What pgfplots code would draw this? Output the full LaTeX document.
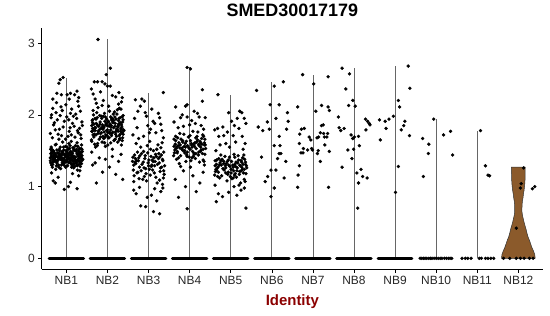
\documentclass[border=0pt]{standalone}
\usepackage{pgfplots}
\usepackage{pgfplotstable}
\pgfplotsset{compat=1.18}
\usepackage{fontspec}
\setmainfont{Liberation Sans}
\definecolor{idred}{RGB}{139,0,0}
\definecolor{nbbrown}{RGB}{139,90,43}

\pgfplotstableread{
d v
-0.31 1.42
0.17 1.35
-0.06 1.51
0.34 1.28
-0.22 1.47
0.05 1.39
0.28 1.56
-0.38 1.33
0.11 1.44
-0.14 1.25
0.39 1.49
-0.27 1.58
0.02 1.37
0.23 1.41
-0.09 1.62
-0.35 1.46
0.31 1.36
0.08 1.53
-0.19 1.30
0.36 1.43
-0.02 1.27
0.14 1.48
-0.29 1.39
0.26 1.61
-0.11 1.45
0.33 1.22
-0.37 1.55
0.19 1.32
-0.05 1.40
0.09 1.57
-0.24 1.34
0.38 1.52
-0.16 1.43
0.03 1.29
0.29 1.46
-0.33 1.38
0.12 1.63
-0.08 1.35
0.21 1.50
-0.26 1.24
0.07 1.45
-0.32 1.50
0.25 1.33
-0.13 1.41
0.37 1.58
-0.21 1.36
0.01 1.47
0.18 1.26
-0.36 1.43
0.30 1.39
-0.07 1.55
0.13 1.31
-0.28 1.44
0.35 1.48
-0.17 1.52
0.22 1.37
-0.03 1.34
-0.39 1.40
0.27 1.45
0.06 1.60
-0.23 1.42
0.16 1.54
-0.12 1.30
0.32 1.44
-0.34 1.27
0.10 1.38
-0.01 1.43
0.24 1.49
-0.30 1.35
0.04 1.52
0.37 1.40
-0.18 1.46
0.15 1.36
-0.25 1.59
0.20 1.28
-0.10 1.49
0.34 1.33
-0.36 1.47
0.00 1.41
0.27 1.23
-0.15 1.38
0.28 1.44
-0.33 1.31
0.09 1.47
-0.04 1.36
0.36 1.53
-0.25 1.42
0.19 1.39
-0.11 1.48
0.02 1.55
0.31 1.35
-0.38 1.46
0.14 1.29
-0.20 1.41
0.26 1.46
-0.07 1.32
0.38 1.43
-0.29 1.37
0.05 1.44
0.22 1.57
-0.35 1.52
0.12 1.40
-0.18 1.27
0.33 1.47
-0.01 1.50
-0.23 1.33
0.17 1.42
0.40 1.38
-0.31 1.49
0.08 1.34
-0.13 1.45
0.25 1.30
-0.37 1.41
0.03 1.46
0.29 1.42
-0.09 1.39
0.18 1.51
-0.27 1.45
0.11 1.33
-0.05 1.44
0.22 1.36
-0.30 1.44
0.06 1.33
-0.17 1.50
0.33 1.41
-0.06 1.30
0.15 1.46
-0.38 1.52
0.27 1.37
-0.12 1.43
0.01 1.35
0.36 1.47
-0.24 1.29
0.10 1.49
-0.34 1.34
0.19 1.42
-0.02 1.56
0.31 1.31
-0.20 1.38
0.04 1.45
0.25 1.52
-0.28 1.41
0.13 1.27
-0.09 1.48
0.38 1.36
-0.15 1.55
0.08 1.40
-0.36 1.30
0.29 1.44
-0.04 1.37
-0.19 1.46
0.35 1.39
-0.01 1.28
0.24 1.34
-0.35 1.49
0.12 1.43
-0.26 1.37
0.30 1.50
0.03 1.42
-0.10 1.33
0.18 1.54
-0.32 1.40
0.37 1.32
-0.07 1.46
0.09 1.36
-0.23 1.51
0.27 1.29
-0.14 1.39
0.02 1.48
0.34 1.44
-0.39 1.36
0.16 1.31
-0.03 1.45
0.21 1.38
-0.29 1.47
0.07 1.34
-0.17 1.42
0.32 1.53
-0.11 1.37
0.14 1.41
-0.34 1.68
0.12 1.72
-0.18 1.66
0.29 1.75
0.04 1.70
-0.27 1.79
0.36 1.67
-0.08 1.83
0.21 1.69
-0.39 1.74
0.15 1.88
-0.12 1.71
0.32 1.81
-0.22 1.93
0.07 1.77
-0.02 1.66
0.25 1.95
-0.31 1.86
0.38 1.90
-0.15 1.99
0.10 2.02
-0.36 2.00
0.19 1.84
-0.05 1.91
0.34 2.05
-0.25 2.03
0.01 1.97
0.27 1.78
-0.20 1.73
0.13 2.08
-0.37 1.96
0.23 2.01
-0.10 2.06
0.39 1.85
-0.29 1.89
0.06 1.93
0.30 2.12
-0.17 1.80
0.17 1.98
-0.33 2.09
-0.01 2.14
0.35 1.72
-0.24 2.17
0.09 1.82
0.28 2.19
-0.13 2.11
-0.15 2.49
-0.08 2.52
-0.18 2.44
-0.23 2.30
-0.12 2.28
0.02 2.28
0.10 2.30
0.20 2.28
0.26 2.33
-0.33 2.22
0.07 2.22
0.30 2.24
-0.32 1.08
-0.27 1.05
0.10 1.06
-0.05 0.96
0.05 1.00
0.26 0.97
-0.20 1.13
0.30 1.15
0.15 1.18
-0.36 1.19
}\nbone

\pgfplotstableread{
d v
-0.31 1.82
0.17 1.65
-0.06 1.91
0.34 1.58
-0.22 1.77
0.05 2.05
0.28 1.86
-0.38 1.63
0.11 1.74
-0.14 1.95
0.39 1.79
-0.27 1.88
0.02 1.68
0.23 2.01
-0.09 1.84
-0.35 1.72
0.31 1.96
0.08 1.61
-0.19 1.99
0.36 1.75
-0.02 1.78
0.14 1.89
-0.29 1.55
0.26 1.83
-0.11 1.70
0.33 2.08
-0.37 1.92
0.19 1.66
-0.05 1.97
0.09 1.85
-0.24 1.60
0.38 1.93
-0.16 1.81
0.03 2.12
0.29 1.71
-0.33 1.87
0.12 1.52
-0.08 1.76
0.21 1.94
-0.26 2.03
0.07 1.87
-0.32 1.73
0.25 1.79
-0.13 1.62
0.37 1.90
-0.21 1.84
0.01 1.58
0.18 1.97
-0.36 1.81
0.30 1.67
-0.07 2.02
0.13 1.76
-0.28 1.94
0.35 1.83
-0.17 1.69
0.22 1.80
-0.03 1.88
-0.39 1.65
0.27 1.92
0.06 1.74
-0.23 2.10
0.16 1.64
-0.12 1.86
0.32 1.77
-0.34 2.00
0.10 1.93
-0.01 1.71
0.24 2.07
-0.30 1.78
0.04 1.84
0.37 1.68
-0.18 1.90
0.15 1.82
-0.25 1.57
0.20 1.73
-0.10 1.98
0.34 1.86
-0.36 1.89
0.00 1.79
0.27 2.15
-0.15 1.75
0.28 1.95
-0.33 1.69
0.09 1.83
-0.04 1.72
0.36 1.64
-0.25 1.96
0.19 1.88
-0.11 1.80
0.02 1.91
0.31 1.73
-0.38 1.85
0.14 2.01
-0.20 1.66
0.26 1.77
-0.07 1.61
0.38 1.99
-0.29 1.82
0.05 1.76
0.22 1.70
-0.35 2.06
0.12 1.94
-0.18 1.87
0.33 1.80
-0.01 1.85
-0.23 1.74
0.17 2.04
0.40 1.78
-0.31 1.59
0.08 1.97
-0.13 2.13
0.25 1.62
-0.37 1.77
0.03 1.90
0.29 2.09
-0.09 1.67
0.18 1.84
-0.27 2.16
0.11 1.95
-0.05 1.56
0.22 1.78
-0.30 1.95
0.06 1.86
-0.17 1.74
0.33 1.81
-0.06 1.69
0.15 1.92
-0.38 1.77
0.27 1.87
-0.12 1.83
0.01 1.75
0.36 1.97
-0.24 1.85
0.10 1.71
-0.34 1.80
0.19 1.76
-0.02 1.94
0.31 1.89
-0.20 1.79
0.04 1.68
0.25 1.84
-0.28 1.72
0.13 1.90
-0.09 1.82
0.38 1.73
-0.15 1.98
0.08 1.79
-0.36 1.93
0.29 1.65
-0.04 1.86
-0.23 3.05
0.07 2.65
-0.03 2.56
-0.32 2.46
-0.24 2.46
-0.13 2.46
-0.06 2.43
0.00 2.40
0.07 2.40
-0.39 2.36
-0.35 2.29
-0.17 2.32
0.20 2.25
0.36 2.24
0.34 2.18
-0.30 2.22
0.12 2.27
-0.10 2.20
0.28 2.31
-0.27 1.05
-0.36 1.30
-0.30 1.33
-0.12 1.20
0.05 1.27
0.20 1.17
0.37 1.10
0.27 1.35
-0.20 1.40
0.12 1.42
-0.05 1.38
0.33 1.45
-0.38 1.48
}\nbtwo

\pgfplotstableread{
d v
-0.31 1.32
0.17 1.45
-0.06 1.18
0.34 1.38
-0.22 1.27
0.05 1.52
0.28 1.21
-0.38 1.41
0.11 1.35
-0.14 1.10
0.39 1.29
-0.27 1.48
0.02 1.24
0.23 1.58
-0.09 1.39
-0.35 1.15
0.31 1.44
0.08 1.30
-0.19 1.55
0.36 1.12
-0.02 1.47
0.14 1.19
-0.29 1.36
0.26 1.33
-0.11 1.26
0.33 1.61
-0.37 1.23
0.19 1.42
-0.05 1.08
0.09 1.37
-0.24 1.40
0.38 1.17
-0.16 1.31
0.03 1.63
0.29 1.26
-0.33 1.34
0.12 1.50
-0.08 1.43
0.21 1.05
-0.26 1.20
0.07 1.28
-0.32 1.39
0.25 1.46
-0.13 1.34
0.37 1.22
-0.21 1.43
0.01 1.37
0.18 1.13
-0.36 1.30
0.30 1.54
-0.07 1.25
0.13 1.40
-0.28 1.19
0.35 1.36
-0.17 1.46
0.22 1.31
-0.03 1.57
-0.39 1.35
0.27 1.09
0.06 1.42
-0.23 1.11
0.16 1.35
-0.12 1.49
0.32 1.27
-0.34 1.44
0.10 1.23
-0.01 1.33
0.24 1.39
-0.30 1.60
0.04 1.16
0.37 1.48
-0.18 1.22
0.15 1.29
-0.25 1.36
0.20 1.52
-0.10 1.14
0.34 1.03
-0.36 1.07
0.00 1.29
0.27 1.41
0.36 2.31
-0.32 2.21
-0.16 2.22
-0.10 2.19
-0.26 2.05
-0.34 1.95
0.24 2.02
0.30 1.87
-0.20 2.12
0.08 2.08
-0.05 1.98
0.15 1.88
-0.28 1.82
0.32 1.78
-0.38 1.72
0.18 1.75
-0.12 1.70
0.05 1.80
0.36 1.68
-0.24 1.67
0.11 1.91
-0.02 1.85
0.27 1.96
0.02 1.75
-0.08 2.03
-0.19 0.73
-0.07 0.72
0.12 0.65
0.27 0.62
0.20 0.80
-0.30 0.90
-0.36 0.95
0.07 0.88
0.30 0.93
-0.03 0.85
0.15 0.97
-0.22 0.99
0.35 0.98
}\nbthree

\pgfplotstableread{
d v
-0.31 1.55
0.17 1.62
-0.06 1.48
0.34 1.70
-0.22 1.43
0.05 1.58
0.28 1.51
-0.38 1.66
0.11 1.45
-0.14 1.73
0.39 1.53
-0.27 1.40
0.02 1.64
0.23 1.57
-0.09 1.35
-0.35 1.59
0.31 1.46
0.08 1.77
-0.19 1.52
0.36 1.61
-0.02 1.54
0.14 1.39
-0.29 1.68
0.26 1.49
-0.11 1.60
0.33 1.37
-0.37 1.47
0.19 1.65
-0.05 1.57
0.09 1.42
-0.24 1.74
0.38 1.58
-0.16 1.50
0.03 1.36
0.29 1.67
-0.33 1.53
0.12 1.56
-0.08 1.63
0.21 1.44
-0.26 1.61
0.07 1.49
-0.32 1.38
0.25 1.63
-0.13 1.56
0.37 1.45
-0.21 1.66
0.01 1.52
0.18 1.70
-0.36 1.51
0.30 1.59
-0.07 1.44
0.13 1.61
-0.28 1.57
0.35 1.35
-0.17 1.62
0.22 1.48
-0.03 1.69
-0.39 1.43
0.27 1.55
0.06 1.40
-0.23 1.58
0.16 1.53
-0.12 1.47
0.32 1.72
-0.34 1.64
0.10 1.59
-0.01 1.41
0.24 1.34
-0.30 1.49
0.04 1.60
0.37 1.66
-0.18 1.54
0.15 1.46
-0.25 1.32
0.20 1.76
-0.10 1.55
0.22 1.59
-0.30 1.47
0.06 1.55
-0.17 1.64
0.33 1.52
-0.06 1.42
0.15 1.68
-0.38 1.56
0.27 1.61
-0.12 1.50
0.01 1.71
0.36 1.58
-0.24 1.54
0.10 1.47
-0.34 1.70
-0.06 2.66
0.02 2.64
0.31 2.35
0.31 2.19
-0.34 2.11
-0.10 2.12
-0.06 2.14
0.11 2.05
-0.22 1.96
-0.06 1.97
0.23 1.97
0.38 1.96
-0.38 1.90
0.14 1.88
-0.15 1.84
0.05 1.92
0.28 1.85
-0.28 1.82
0.34 1.80
0.00 1.86
-0.18 2.00
0.19 2.02
-0.27 0.85
-0.06 0.69
0.16 0.93
-0.35 1.10
0.25 1.05
0.08 1.15
-0.15 1.22
0.33 1.20
-0.22 1.28
0.02 1.27
0.36 1.30
-0.10 1.00
}\nbfour

\pgfplotstableread{
d v
-0.31 1.27
0.17 1.33
-0.06 1.20
0.34 1.38
-0.22 1.15
0.05 1.30
0.28 1.24
-0.38 1.36
0.11 1.18
-0.14 1.42
0.39 1.26
-0.27 1.12
0.02 1.35
0.23 1.29
-0.09 1.08
-0.35 1.31
0.31 1.19
0.08 1.45
-0.19 1.25
0.36 1.34
-0.02 1.28
0.14 1.13
-0.29 1.39
0.26 1.22
-0.11 1.32
0.33 1.10
-0.37 1.21
0.19 1.37
-0.05 1.30
0.09 1.16
-0.24 1.44
0.38 1.29
-0.16 1.23
0.03 1.11
0.29 1.40
-0.33 1.26
0.12 1.28
-0.08 1.35
0.21 1.17
-0.26 1.33
0.07 1.22
-0.32 1.14
0.25 1.36
-0.13 1.29
0.37 1.18
-0.21 1.38
0.01 1.24
0.18 1.43
-0.36 1.24
0.30 1.31
-0.07 1.17
0.13 1.34
-0.28 1.30
0.35 1.07
-0.17 1.35
0.22 1.21
-0.03 1.41
-0.39 1.16
0.27 1.27
0.06 1.12
-0.23 1.30
0.16 1.26
-0.12 1.19
0.32 1.44
-0.34 1.37
0.10 1.31
-0.01 1.14
0.24 1.05
0.22 1.30
-0.30 1.20
0.06 1.27
-0.17 1.32
0.33 1.24
-0.06 1.37
0.15 1.22
-0.38 1.29
0.27 1.34
-0.12 1.26
0.01 1.19
0.36 1.31
-0.24 1.36
0.10 1.41
-0.34 1.23
-0.31 2.28
-0.05 2.03
0.22 2.05
0.27 2.03
0.33 1.95
-0.39 1.79
-0.32 1.81
-0.19 1.83
0.02 1.91
0.16 1.95
0.20 1.81
-0.29 1.70
-0.17 1.71
0.06 1.71
0.28 1.70
0.35 1.60
-0.26 1.58
-0.12 1.60
0.12 1.62
-0.03 1.55
0.30 1.52
-0.36 1.50
0.09 1.85
-0.08 1.76
0.37 1.88
-0.35 0.79
0.37 0.70
0.15 0.88
-0.30 0.90
-0.20 0.86
0.25 0.95
0.33 0.98
-0.05 0.92
0.08 1.00
-0.38 1.02
0.20 1.02
}\nbfive

\pgfplotstableread{
d v
-0.37 2.34
0.06 2.40
0.28 2.46
-0.04 2.14
0.18 2.14
-0.33 1.83
-0.11 1.90
0.38 2.03
0.40 1.91
-0.22 1.78
-0.06 1.80
0.10 1.95
0.18 1.70
0.20 1.57
0.06 1.57
0.18 1.46
-0.25 1.41
0.14 1.39
0.22 1.46
-0.02 1.23
0.10 1.23
-0.10 1.14
-0.16 1.07
0.06 0.98
-0.02 0.86
0.30 1.12
0.34 1.35
0.36 1.80
}\nbsix

\pgfplotstableread{
d v
-0.25 2.56
0.02 2.43
0.37 2.53
-0.37 2.11
0.07 2.05
0.21 2.13
0.37 2.11
0.40 2.06
-0.28 1.80
-0.21 1.81
0.21 1.85
0.25 1.86
0.18 1.75
0.26 1.74
0.36 1.74
0.28 1.69
0.34 1.69
-0.09 1.69
-0.05 1.65
0.10 1.68
0.14 1.69
-0.32 1.73
-0.33 1.60
-0.29 1.47
-0.24 1.47
-0.23 1.53
-0.13 1.51
-0.03 1.53
-0.01 1.51
0.11 1.46
0.13 1.50
0.18 1.35
0.29 1.58
0.40 1.49
-0.33 1.29
-0.36 1.16
-0.37 0.99
0.38 0.99
}\nbseven

\pgfplotstableread{
d v
-0.29 2.65
-0.11 2.57
-0.20 2.36
-0.03 2.20
0.03 2.12
-0.13 2.13
-0.38 1.97
-0.36 1.82
-0.32 1.78
-0.24 1.81
-0.07 1.72
0.01 1.69
0.11 1.70
-0.03 1.67
0.28 1.94
0.33 1.91
0.37 1.88
0.39 1.86
0.29 1.79
-0.15 1.51
-0.01 1.52
0.13 1.57
-0.05 1.39
-0.29 1.27
0.07 1.19
0.17 1.24
0.21 1.14
0.32 1.12
0.11 1.05
0.09 0.70
}\nbeight

\pgfplotstableread{
d v
0.32 2.68
0.36 2.37
0.08 2.20
0.11 2.11
-0.04 1.98
-0.38 1.93
-0.24 1.91
-0.15 1.94
-0.36 1.65
-0.22 1.81
0.24 1.91
0.21 1.85
0.15 1.79
0.35 1.71
0.08 1.28
0.01 0.92
}\nbnine

\begin{document}
\begin{tikzpicture}
\path[use as bounding box] (0,0) rectangle (550bp,316bp);
\begin{axis}[
  at={(41.7bp,46.7bp)}, anchor=south west,
  scale only axis, width=501.3bp, height=241.3bp,
  xmin=0.4, xmax=12.6, ymin=-0.153, ymax=3.21,
  axis lines*=left,
  axis line style={-, line width=0.7bp, black},
  xtick={1,2,3,4,5,6,7,8,9,10,11,12},
  xticklabels={NB1,NB2,NB3,NB4,NB5,NB6,NB7,NB8,NB9,NB10,NB11,NB12},
  ytick={0,1,2,3},
  tick align=outside, major tick length=3.5bp,
  tick style={black, line width=0.6bp},
  ticklabel style={font=\fontsize{12}{14}\selectfont, text=black!85},
  /pgf/number format/assume math mode=true,
  title={SMED30017179},
  title style={font=\bfseries\fontsize{18}{20}\selectfont, at={(axis description cs:0.5,1)}, anchor=base, yshift=6bp},
  xlabel={Identity},
  xlabel style={font=\bfseries\fontsize{15}{17}\selectfont, text=idred, at={(axis description cs:0.5,0)}, anchor=base, yshift=-35.7bp},
]
% violins (collapsed to lines)
\addplot[black!60, line width=0.7bp] coordinates {(1,0)(1,2.52)};
\addplot[black!60, line width=0.7bp] coordinates {(2,0)(2,3.05)};
\addplot[black!60, line width=0.7bp] coordinates {(3,0)(3,2.31)};
\addplot[black!60, line width=0.7bp] coordinates {(4,0)(4,2.66)};
\addplot[black!60, line width=0.7bp] coordinates {(5,0)(5,2.28)};
\addplot[black!60, line width=0.7bp] coordinates {(6,0)(6,2.46)};
\addplot[black!60, line width=0.7bp] coordinates {(7,0)(7,2.56)};
\addplot[black!60, line width=0.7bp] coordinates {(8,0)(8,2.65)};
\addplot[black!60, line width=0.7bp] coordinates {(9,0)(9,2.68)};
\addplot[black!60, line width=0.7bp] coordinates {(10,0)(10,1.94)};
\addplot[black!60, line width=0.7bp] coordinates {(11,0)(11,1.78)};
% NB12 violin
\addplot[fill=nbbrown, draw=black!80, line width=0.5bp] coordinates {
(12.41,0)(12.40,0.05)(12.37,0.10)(12.33,0.15)(12.30,0.20)(12.27,0.25)(12.235,0.30)(12.21,0.35)(12.19,0.40)(12.165,0.45)(12.14,0.50)(12.12,0.55)(12.10,0.60)(12.088,0.65)(12.088,0.70)(12.092,0.75)(12.10,0.80)(12.115,0.85)(12.125,0.90)(12.14,0.95)(12.15,1.00)(12.158,1.05)(12.163,1.10)(12.166,1.15)(12.167,1.20)(12.167,1.27)
(11.833,1.27)(11.833,1.20)(11.834,1.15)(11.837,1.10)(11.842,1.05)(11.85,1.00)(11.86,0.95)(11.875,0.90)(11.885,0.85)(11.90,0.80)(11.908,0.75)(11.912,0.70)(11.912,0.65)(11.90,0.60)(11.88,0.55)(11.86,0.50)(11.835,0.45)(11.81,0.40)(11.79,0.35)(11.765,0.30)(11.73,0.25)(11.70,0.20)(11.67,0.15)(11.63,0.10)(11.60,0.05)(11.59,0)} -- cycle;
% zero rows (dense)
\addplot[black, line width=3bp, line cap=round] coordinates {(0.58,0)(1.42,0)};
\addplot[black, line width=3bp, line cap=round] coordinates {(1.58,0)(2.42,0)};
\addplot[black, line width=3bp, line cap=round] coordinates {(2.58,0)(3.42,0)};
\addplot[black, line width=3bp, line cap=round] coordinates {(3.58,0)(4.42,0)};
\addplot[black, line width=3bp, line cap=round] coordinates {(4.58,0)(5.42,0)};
\addplot[black, line width=3bp, line cap=round] coordinates {(5.58,0)(6.42,0)};
\addplot[black, line width=3bp, line cap=round] coordinates {(6.58,0)(7.42,0)};
\addplot[black, line width=3bp, line cap=round] coordinates {(7.58,0)(8.42,0)};
\addplot[black, line width=3bp, line cap=round] coordinates {(8.59,0)(9.41,0)};
% zero rows (sparse)
\addplot[only marks, mark=*, mark size=1.5bp, black] coordinates {
(9.61,0)(9.65,0)(9.69,0)(9.73,0)(9.77,0)(9.82,0)(9.86,0)(9.90,0)(9.95,0)(10.00,0)(10.05,0)(10.10,0)(10.14,0)(10.20,0)(10.25,0)(10.30,0)(10.34,0)(10.38,0)
(10.63,0)(10.71,0)(10.77,0)(10.85,0)(11.05,0)(11.10,0)(11.20,0)(11.26,0)(11.33,0)(11.40,0)
(11.64,0)(11.79,0)(11.95,0)(12.05,0)(12.14,0)(12.27,0)(12.36,0)};
% jittered points
\addplot[only marks, mark=*, mark size=1.5bp, black] table[x expr=\thisrow{d}+1, y=v] {\nbone};
\addplot[only marks, mark=*, mark size=1.5bp, black] table[x expr=\thisrow{d}+2, y=v] {\nbtwo};
\addplot[only marks, mark=*, mark size=1.5bp, black] table[x expr=\thisrow{d}+3, y=v] {\nbthree};
\addplot[only marks, mark=*, mark size=1.5bp, black] table[x expr=\thisrow{d}+4, y=v] {\nbfour};
\addplot[only marks, mark=*, mark size=1.5bp, black] table[x expr=\thisrow{d}+5, y=v] {\nbfive};
\addplot[only marks, mark=*, mark size=1.5bp, black] table[x expr=\thisrow{d}+6, y=v] {\nbsix};
\addplot[only marks, mark=*, mark size=1.5bp, black] table[x expr=\thisrow{d}+7, y=v] {\nbseven};
\addplot[only marks, mark=*, mark size=1.5bp, black] table[x expr=\thisrow{d}+8, y=v] {\nbeight};
\addplot[only marks, mark=*, mark size=1.5bp, black] table[x expr=\thisrow{d}+9, y=v] {\nbnine};
\addplot[only marks, mark=*, mark size=1.5bp, black] coordinates {
(9.94,1.94)(9.67,1.67)(9.82,1.59)(9.81,1.46)(9.69,1.14)(10.18,1.72)(10.35,1.77)(10.40,1.44)
(11.08,1.78)(11.20,1.29)(11.26,1.16)(11.30,1.15)
(12.13,1.26)(12.07,1.04)(12.05,0.98)(12.34,0.97)(12.40,1.00)(11.95,0.42)};
\end{axis}
\end{tikzpicture}
\end{document}
